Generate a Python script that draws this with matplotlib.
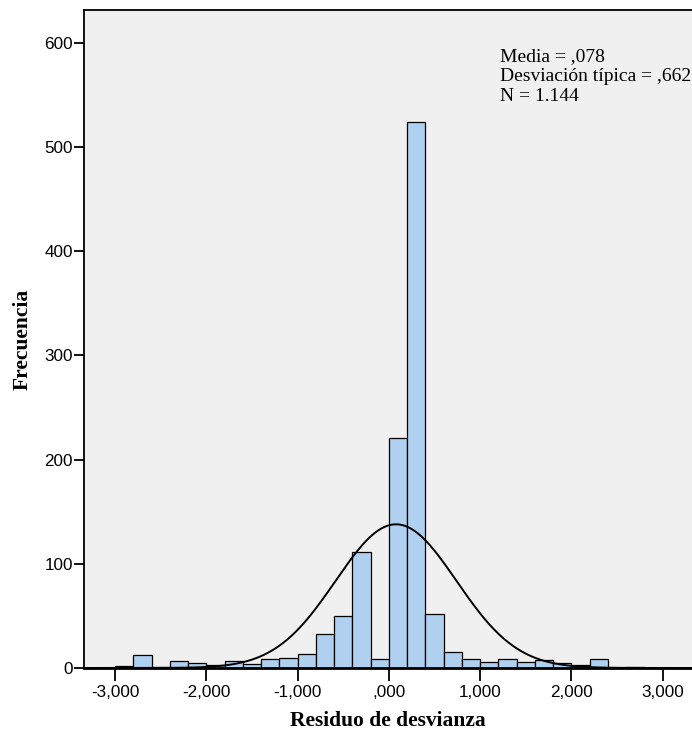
import numpy as np
import matplotlib
matplotlib.use('Agg')
import matplotlib.pyplot as plt

# histogram of deviance residuals, bins of width 0.2 starting at -3.0
bin_start = -3.0
bin_width = 0.2
counts = [2, 12, 1, 7, 5, 3, 7, 4, 9, 10, 13, 33, 50, 111, 9,
          221, 524, 52, 15, 9, 6, 9, 6, 8, 5, 3, 9, 0, 1]
media = 0.078
desv = 0.662
n_total = 1144

xticks = [-3, -2, -1, 0, 1, 2, 3]
xtick_labels = ['-3,000', '-2,000', '-1,000', ',000', '1,000', '2,000', '3,000']
yticks = [0, 100, 200, 300, 400, 500, 600]

lefts = np.round(bin_start + bin_width * np.arange(len(counts)), 2)

fig = plt.figure(figsize=(6.92, 7.33), dpi=100)
ax = fig.add_axes([0.1214, 0.0887, 0.8786, 0.897])
ax.set_facecolor('#F0F0F0')

ax.bar(lefts, counts, width=bin_width, align='edge',
       color='#AFD0EE', edgecolor='black', linewidth=0.9, zorder=2)

# normal curve scaled to the histogram
xs = np.linspace(-3.34, 3.32, 400)
dens = np.exp(-0.5 * ((xs - media) / desv) ** 2) / (desv * np.sqrt(2 * np.pi))
ax.plot(xs, dens * n_total * bin_width, color='black', linewidth=1.4, zorder=3)

ax.set_xlim(-3.34, 3.32)
ax.set_ylim(0, 631)
ax.set_xticks(xticks)
ax.set_xticklabels(xtick_labels)
ax.set_yticks(yticks)
for lab in ax.get_xticklabels() + ax.get_yticklabels():
    lab.set_family('Liberation Sans')
    lab.set_fontsize(12.3)
ax.tick_params(axis='x', direction='out', length=9, width=1.3, pad=3)
ax.tick_params(axis='y', direction='out', length=7, width=1.3, pad=1)

for side in ['left', 'bottom', 'top']:
    ax.spines[side].set_linewidth(1.3)
ax.spines['bottom'].set_linewidth(2)
ax.spines['right'].set_visible(False)

ax.set_xlabel('Residuo de desvianza', family='Liberation Serif',
              fontweight='bold', fontsize=15.5, labelpad=8)
ax.set_ylabel('Frecuencia', family='Liberation Serif',
              fontweight='bold', fontsize=15.5, labelpad=8)

ax.text(0.684, 0.943,
        'Media = ,078\nDesviación típica = ,662\nN = 1.144',
        transform=ax.transAxes, ha='left', va='top',
        family='Liberation Serif', fontsize=14, linespacing=1.22)

fig.savefig('out.png', dpi=100)
